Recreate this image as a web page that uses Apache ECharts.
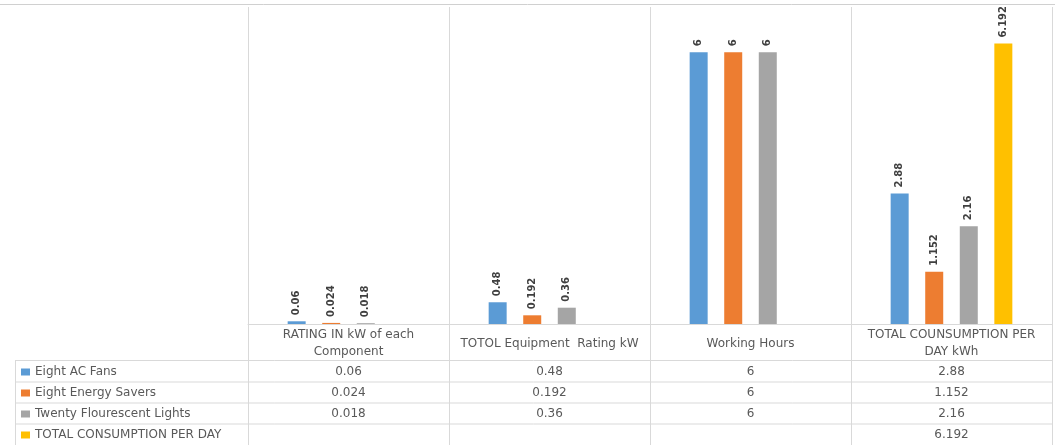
<!DOCTYPE html>
<html>
<head>
<meta charset="utf-8">
<script src="https://cdn.jsdelivr.net/npm/echarts@6/dist/echarts.min.js"></script>
<style>
  html, body { margin: 0; padding: 0; background: #fff; }
  #chart { width: 1055px; height: 445px; }
</style>
</head>
<body>
<div id="chart"></div>
<script>
// categories across the x axis (line breaks as in the table header)
const categories = [
  'RATING IN kW of each\nComponent',
  'TOTOL Equipment  Rating kW',
  'Working Hours',
  'TOTAL COUNSUMPTION PER\nDAY kWh'
]

// series (also the data table rows)
const seriesNames = [
  'Eight AC Fans',
  'Eight Energy Savers',
  'Twenty Flourescent Lights',
  'TOTAL CONSUMPTION PER DAY'
]
const acFans = [0.06, 0.48, 6, 2.88]
const energySavers = [0.024, 0.192, 6, 1.152]
const flourescentLights = [0.018, 0.36, 6, 2.16]
const totalPerDay = [null, null, null, 6.192]

const rows = [acFans, energySavers, flourescentLights, totalPerDay]
const colors = ['#5b9bd5', '#ed7d31', '#a5a5a5', '#ffc000']

const lineColor = '#d9d9d9'
const textColor = '#595959'
const font = 'DejaVu Sans'
const tableSize = 12

const chart = echarts.init(document.getElementById('chart'))

// table row centres measured from the axis line
const rowMargins = [48, 69, 90, 110.5]

const rowAxes = rows.map((vals, i) => ({
  type: 'category',
  gridIndex: 0,
  position: 'bottom',
  data: categories,
  axisLine: { show: false },
  axisTick: { show: false },
  splitLine: { show: false },
  axisLabel: {
    interval: 0,
    margin: rowMargins[i],
    verticalAlign: 'middle',
    fontFamily: font,
    fontSize: tableSize,
    color: textColor,
    formatter: (v, idx) => (vals[idx] == null ? '' : String(vals[idx]))
  }
}))

chart.setOption({
  animation: false,
  color: colors,
  grid: { left: 248, right: 3, top: 7, bottom: 121, containLabel: false },
  legend: {
    orient: 'vertical',
    left: 21,
    top: 365,
    padding: 0,
    itemWidth: 9,
    itemHeight: 7,
    itemGap: 7,
    icon: 'rect',
    data: seriesNames,
    selectedMode: false,
    textStyle: { fontFamily: font, fontSize: tableSize, color: textColor, lineHeight: 14 }
  },
  xAxis: [
    {
      type: 'category',
      data: categories,
      axisLine: { lineStyle: { color: lineColor } },
      axisTick: { show: true, length: 121, lineStyle: { color: lineColor } },
      splitLine: { show: true, lineStyle: { color: lineColor } },
      axisLabel: {
        interval: 0,
        margin: 19.5,
        verticalAlign: 'middle',
        align: 'center',
        lineHeight: 17,
        fontFamily: font,
        fontSize: tableSize,
        color: textColor
      }
    },
    ...rowAxes
  ],
  yAxis: { type: 'value', min: 0, max: 7, show: false },
  graphic: [
    { type: 'line', shape: { x1: 0, y1: 4.5, x2: 1055, y2: 4.5 }, style: { stroke: '#d0d0d0', lineWidth: 1 } },
    { type: 'line', shape: { x1: 15, y1: 360.5, x2: 1052, y2: 360.5 }, style: { stroke: lineColor } },
    { type: 'line', shape: { x1: 15, y1: 382, x2: 1052, y2: 382 }, style: { stroke: lineColor } },
    { type: 'line', shape: { x1: 15, y1: 403, x2: 1052, y2: 403 }, style: { stroke: lineColor } },
    { type: 'line', shape: { x1: 15, y1: 424, x2: 1052, y2: 424 }, style: { stroke: lineColor } },
    { type: 'line', shape: { x1: 15.5, y1: 360.5, x2: 15.5, y2: 445 }, style: { stroke: lineColor } }
  ],
  series: rows.map((vals, i) => ({
    name: seriesNames[i],
    type: 'bar',
    xAxisIndex: 0,
    data: vals,
    barWidth: 18,
    barGap: '92%',
    itemStyle: { color: colors[i] },
    label: {
      show: true,
      position: 'top',
      rotate: 90,
      align: 'left',
      verticalAlign: 'middle',
      distance: 6,
      fontFamily: font,
      fontSize: 10,
      fontWeight: 'bold',
      color: '#404040'
    }
  }))
})

window.addEventListener('resize', () => chart.resize())
</script>
</body>
</html>
